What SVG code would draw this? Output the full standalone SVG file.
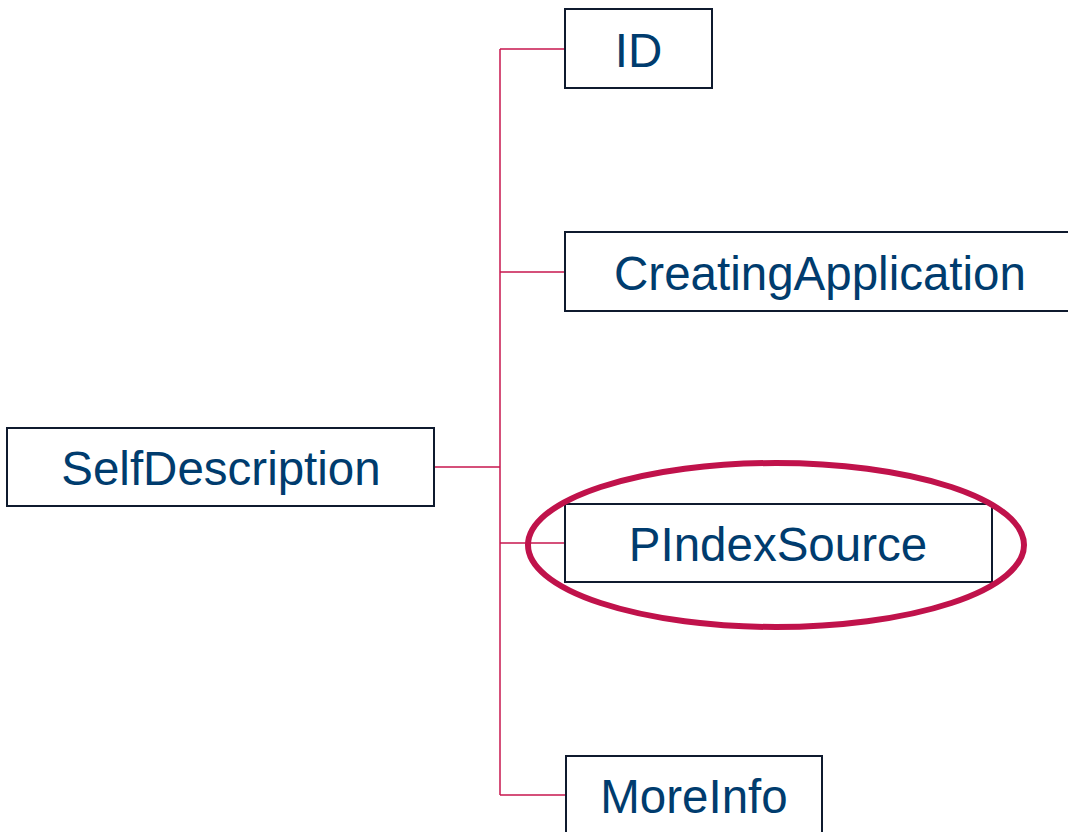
<svg xmlns="http://www.w3.org/2000/svg" width="1068" height="832" viewBox="0 0 1068 832">
<style>
.box{fill:#fff;stroke:#0f1a2e;stroke-width:2}
.lbl{font-family:"Liberation Sans",Arial,sans-serif;font-size:47.5px;fill:#003c6e;text-anchor:middle}
.con{fill:none;stroke:#c8174f;stroke-width:1.5}
</style>
<rect width="1068" height="832" fill="#fff"/>
<g id="connectors">
<path class="con" d="M434,467 H500 M500,49 V795 M500,49 H565 M500,272 H565 M500,543 H565 M500,795 H566"/>
</g>
<g id="SelfDescription"><rect class="box" x="7" y="428" width="427" height="78"/><text class="lbl" x="221" y="485">SelfDescription</text></g>
<g id="ID"><rect class="box" x="565" y="9" width="147" height="79"/><text class="lbl" x="638.5" y="67">ID</text></g>
<g id="CreatingApplication"><rect class="box" x="565" y="232" width="520" height="79"/><text class="lbl" x="820" y="290">CreatingApplication</text></g>
<g id="PIndexSource"><rect class="box" x="565" y="504" width="427" height="78"/><text class="lbl" x="778" y="561">PIndexSource</text></g>
<g id="MoreInfo"><rect class="box" x="566" y="756" width="256" height="90"/><text class="lbl" x="694" y="813">MoreInfo</text></g>
<g id="highlight"><ellipse cx="776" cy="545" rx="248" ry="82" fill="none" stroke="#c0124b" stroke-width="6"/></g>
</svg>
